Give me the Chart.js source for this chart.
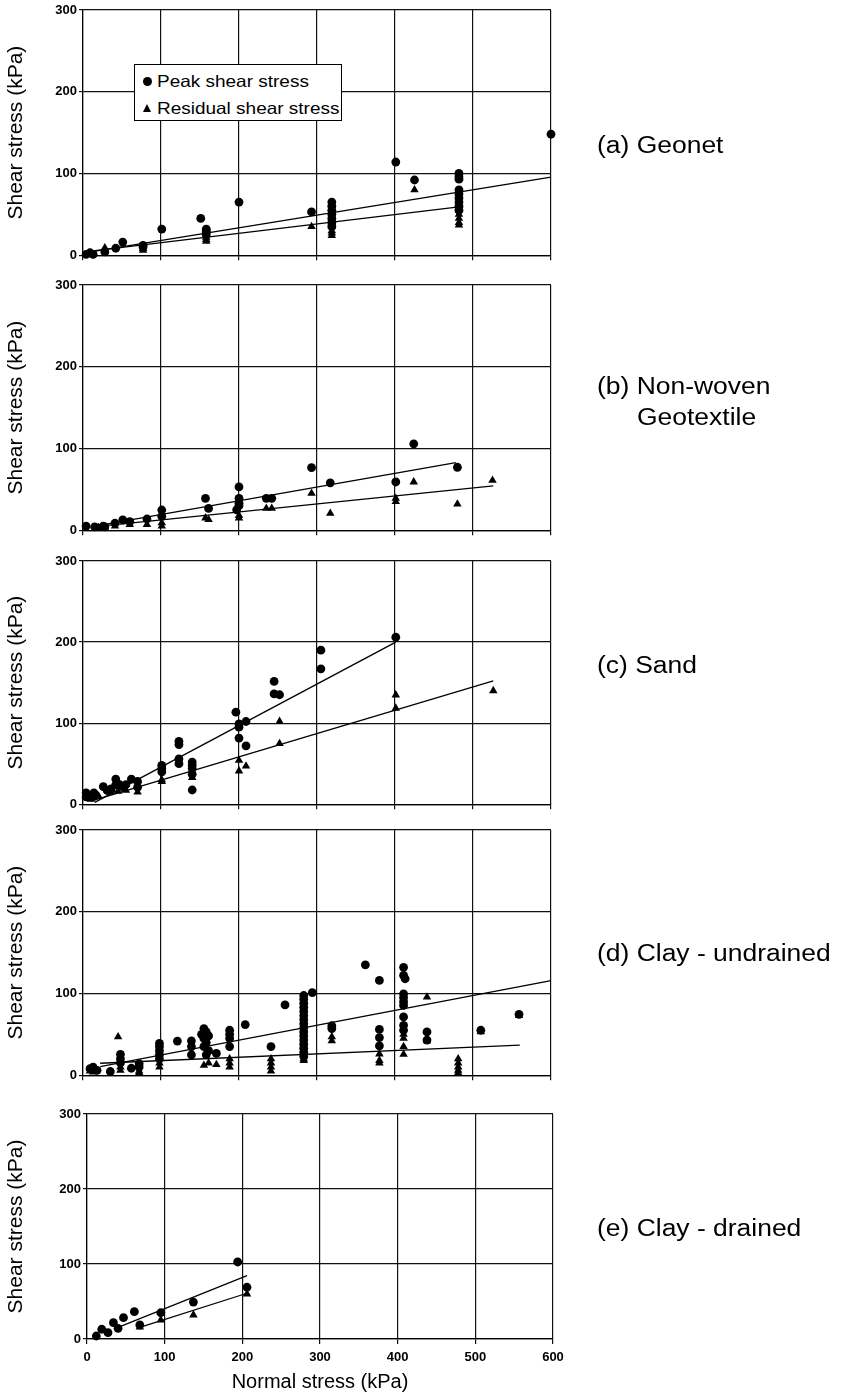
<!DOCTYPE html>
<html>
<head>
<meta charset="utf-8">
<script src="https://cdn.jsdelivr.net/npm/chart.js@4.4.1/dist/chart.umd.min.js"></script>
<style>
html,body{margin:0;padding:0;background:#fff;width:842px;height:1393px;overflow:hidden;position:relative;}
canvas{position:absolute;left:0;}
.lbl{position:absolute;font-family:'Liberation Sans',Arial,Helvetica,sans-serif;font-size:23px;line-height:23px;color:#000;white-space:nowrap;transform:scaleX(1.15);transform-origin:0 50%;}
#legend{position:absolute;left:134px;top:64px;width:206px;height:55px;border:1px solid #000;background:#fff;font-family:'Liberation Sans',Arial,Helvetica,sans-serif;font-size:16.5px;color:#000;}
#legend .row{position:absolute;left:0;height:20px;line-height:20px;white-space:nowrap;}
#legend .txt{position:absolute;left:22px;top:0;transform:scaleX(1.15);transform-origin:0 50%;}
#legend .dot{position:absolute;left:8px;top:6px;width:9px;height:9px;border-radius:50%;background:#000;}
#legend .tri{position:absolute;left:8px;top:6px;width:0;height:0;border-left:4.5px solid transparent;border-right:4.5px solid transparent;border-bottom:8px solid #000;}
</style>
</head>
<body>
<script>
// ---------- tick labels / categories ----------
const xTickValues = [0, 100, 200, 300, 400, 500, 600];
const yTickValues = [0, 100, 200, 300];
const panelNames = ['(a) Geonet', '(b) Non-woven', '(c) Sand', '(d) Clay - undrained', '(e) Clay - drained'];
const seriesNames = ['Peak shear stress', 'Residual shear stress'];

// ---------- (a) Geonet ----------
const geonetPeakX = [4, 9, 13, 28, 42, 51, 77, 77, 101, 151, 158, 158, 158, 158, 200, 293, 319, 319, 319, 319, 319, 319, 319, 401, 425, 482, 482, 482, 482, 482, 482, 482, 482, 482, 600];
const geonetPeakY = [1, 3, 1, 4, 8.5, 16, 12, 10, 32, 45, 32, 30, 28, 25, 65, 53, 65, 60, 55, 50, 45, 40, 35, 114, 92, 100, 96, 93, 80, 75, 70, 65, 60, 55, 148];
const geonetResX = [28, 77, 77, 158, 158, 158, 293, 319, 319, 319, 319, 319, 319, 425, 482, 482, 482, 482, 482, 482];
const geonetResY = [9, 8, 6, 22, 19, 17, 35, 45, 40, 35, 30, 27, 24, 80, 60, 55, 50, 45, 40, 37];
const geonetPeakFitX = [4, 600];
const geonetPeakFitY = [3.2, 95.4];
const geonetResFitX = [10, 482];
const geonetResFitY = [5.1, 59];

// ---------- (b) Non-woven geotextile ----------
const nonwovenPeakX = [4, 15, 26, 28, 41, 51, 60, 82, 101, 101, 157, 161, 200, 200, 200, 197, 200, 235, 242, 293, 317, 401, 424, 480];
const nonwovenPeakY = [5, 4, 5, 4, 8.5, 12.5, 10.5, 13.7, 24.7, 17, 39, 26.7, 53, 39, 33, 25, 30, 39, 39, 76.5, 58, 59, 105.7, 77];
const nonwovenResX = [20, 28, 41, 60, 82, 101, 101, 157, 161, 200, 200, 235, 242, 293, 317, 401, 401, 424, 480, 525];
const nonwovenResY = [3, 4, 5, 7, 7, 9, 5, 15, 13, 18, 15, 26.7, 26.7, 45, 20.6, 39, 35, 59, 32, 61];
const nonwovenPeakFitX = [10, 478];
const nonwovenPeakFitY = [4, 82.6];
const nonwovenResFitX = [10, 526];
const nonwovenResFitY = [3.8, 54.3];

// ---------- (c) Sand ----------
const sandPeakX = [4, 4, 14, 14, 26, 31, 36, 42, 42, 47, 52, 55, 62, 70, 70, 101, 101, 101, 123, 123, 123, 123, 140, 140, 140, 140, 140, 196, 200, 200, 200, 209, 209, 245, 245, 252, 305, 305, 401];
const sandPeakY = [9, 14, 14, 10, 21.6, 17, 19, 31, 24, 24, 21, 24, 31, 28, 21, 48, 44, 40, 77.5, 73.5, 56, 50, 52, 48, 44, 37, 17.5, 113.5, 99, 95, 81.6, 102, 72, 151.5, 136, 135, 190, 167, 206];
const sandResX = [10, 20, 35, 45, 55, 70, 101, 101, 140, 200, 200, 209, 252, 252, 401, 401, 526];
const sandResY = [6, 10, 15, 16, 17, 15, 30, 28, 33, 54, 41, 47, 102, 74.7, 134.7, 118.4, 140];
const sandPeakFitX = [15, 401];
const sandPeakFitY = [2.3, 200];
const sandResFitX = [10, 526];
const sandResFitY = [3.9, 152];

// ---------- (d) Clay - undrained ----------
const clayUPeakX = [9, 13, 18, 35, 48, 48, 48, 62, 72, 72, 98, 98, 98, 98, 98, 121, 139, 139, 139, 152, 155, 158, 161, 155, 158, 155, 161, 158, 171, 188, 188, 188, 188, 208, 241, 259, 283, 283, 283, 283, 283, 283, 283, 283, 283, 283, 283, 283, 283, 283, 283, 283, 294, 319, 319, 362, 380, 380, 380, 380, 411, 411, 413, 411, 411, 411, 411, 411, 411, 411, 441, 441, 510, 559];
const clayUPeakY = [8, 10, 6, 4.5, 25.5, 20, 15, 8.5, 14, 10, 39, 35, 30, 25, 20, 41.7, 42, 35, 25, 50, 57, 53, 48, 45, 40, 35, 30, 25, 26.7, 55, 50, 45, 35, 62, 35, 86, 97.5, 93, 88, 83, 78, 73, 68, 63, 58, 53, 48, 43, 38, 33, 28, 23, 101, 60.5, 57, 135, 116, 56, 46, 36, 132, 122, 118, 99.6, 95, 90, 85.4, 71.3, 61, 55, 53, 43, 55, 74.5];
const clayUResX = [9, 13, 45, 48, 48, 72, 72, 98, 98, 155, 161, 171, 188, 188, 188, 241, 241, 241, 241, 283, 283, 319, 319, 380, 380, 380, 411, 411, 411, 411, 441, 441, 481, 481, 481, 481, 481, 510, 559];
const clayUResY = [5, 4, 47, 10, 6, 5, 3, 15, 10, 12, 15, 13, 20, 15, 10, 20, 15, 10, 5, 20, 18, 47, 42, 26, 18, 15, 50, 45, 35, 25.5, 95.6, 42, 20, 15, 10, 6, 3, 53, 73];
const clayUPeakFitX = [22, 600];
const clayUPeakFitY = [10.4, 115.8];
const clayUResFitX = [22, 560];
const clayUResFitY = [14.6, 36.8];

// ---------- (e) Clay - drained ----------
const clayDPeakX = [12, 19, 27, 34, 40, 47, 61, 68, 95, 137, 194, 206];
const clayDPeakY = [4, 13, 8.4, 21.8, 14.2, 28.4, 36.4, 18.7, 35, 49.3, 102.7, 69];
const clayDResX = [68, 95, 137, 206];
const clayDResY = [16, 25.3, 32, 60];
const clayDPeakFitX = [40, 206];
const clayDPeakFitY = [15.6, 84.4];
const clayDResFitX = [68, 206];
const clayDResFitY = [15.6, 61];

// ---------- build ----------
const FONT = "'Liberation Sans', Arial, Helvetica, sans-serif";
function pts(xs, ys) { return xs.map((x, i) => ({ x: x, y: ys[i] })); }

const panels = [
  { name: panelNames[0], px: geonetPeakX, py: geonetPeakY, rx: geonetResX, ry: geonetResY, pfx: geonetPeakFitX, pfy: geonetPeakFitY, rfx: geonetResFitX, rfy: geonetResFitY,
    top: 0, h: 265, padTop: 10, left: 83, right: 551, xH: 8, showX: false },
  { name: panelNames[1], px: nonwovenPeakX, py: nonwovenPeakY, rx: nonwovenResX, ry: nonwovenResY, pfx: nonwovenPeakFitX, pfy: nonwovenPeakFitY, rfx: nonwovenResFitX, rfy: nonwovenResFitY,
    top: 270, h: 270, padTop: 15, left: 83, right: 551, xH: 8, showX: false },
  { name: panelNames[2], px: sandPeakX, py: sandPeakY, rx: sandResX, ry: sandResY, pfx: sandPeakFitX, pfy: sandPeakFitY, rfx: sandResFitX, rfy: sandResFitY,
    top: 545, h: 269, padTop: 16, left: 83, right: 551, xH: 8, showX: false },
  { name: panelNames[3], px: clayUPeakX, py: clayUPeakY, rx: clayUResX, ry: clayUResY, pfx: clayUPeakFitX, pfy: clayUPeakFitY, rfx: clayUResFitX, rfy: clayUResFitY,
    top: 815, h: 270, padTop: 15, left: 83, right: 551, xH: 8, showX: false },
  { name: panelNames[4], px: clayDPeakX, py: clayDPeakY, rx: clayDResX, ry: clayDResY, pfx: clayDPeakFitX, pfy: clayDPeakFitY, rfx: clayDResFitX, rfy: clayDResFitY,
    top: 1090, h: 304, padTop: 24, left: 87, right: 553, xH: 55, showX: true }
];

function makeChart(p) {
  const c = document.createElement('canvas');
  c.width = 842; c.height = p.h;
  c.style.top = p.top + 'px';
  c.style.width = '842px'; c.style.height = p.h + 'px';
  document.body.appendChild(c);
  return new Chart(c, {
    type: 'scatter',
    data: {
      datasets: [
        { label: seriesNames[0], data: pts(p.px, p.py), pointStyle: 'circle', pointRadius: 4.4, backgroundColor: '#000', borderColor: '#000', borderWidth: 0, clip: false, order: 2 },
        { label: seriesNames[1], data: pts(p.rx, p.ry), pointStyle: 'triangle', pointRadius: 4.9, backgroundColor: '#000', borderColor: '#000', borderWidth: 0, clip: false, order: 2 },
        { label: seriesNames[0] + ' fit', data: pts(p.pfx, p.pfy), showLine: true, pointRadius: 0, borderColor: '#000', borderWidth: 1.3, fill: false, clip: false, order: 1 },
        { label: seriesNames[1] + ' fit', data: pts(p.rfx, p.rfy), showLine: true, pointRadius: 0, borderColor: '#000', borderWidth: 1.3, fill: false, clip: false, order: 1 }
      ]
    },
    options: {
      responsive: false, animation: false, devicePixelRatio: 1,
      layout: { padding: { top: p.padTop, left: 0, right: 842 - p.right, bottom: 0 } },
      plugins: { legend: { display: false }, tooltip: { enabled: false } },
      scales: {
        x: {
          type: 'linear', min: 0, max: 600,
          afterBuildTicks: s => { s.ticks = xTickValues.map(v => ({ value: v })); },
          ticks: { display: p.showX, color: '#000', padding: 6, maxRotation: 0, font: { family: FONT, size: 13, weight: 'bold' } },
          grid: { color: '#111', lineWidth: 1.2, drawTicks: true, tickLength: 5 },
          border: { color: '#000', width: 1.2 },
          title: { display: p.showX, text: 'Normal stress (kPa)', color: '#000', font: { family: FONT, size: 20 }, padding: { top: 0, bottom: 0 } },
          afterFit: s => { s.height = p.xH; }
        },
        y: {
          type: 'linear', min: 0, max: 300,
          afterBuildTicks: s => { s.ticks = yTickValues.map(v => ({ value: v })); },
          ticks: { color: '#000', padding: 2, font: { family: FONT, size: 13, weight: 'bold' } },
          grid: { color: '#111', lineWidth: 1.2, drawTicks: true, tickLength: 4 },
          border: { color: '#000', width: 1.2 },
          title: { display: true, text: 'Shear stress (kPa)', color: '#000', font: { family: FONT, size: 21 }, padding: { top: 4, bottom: 0 } },
          afterFit: s => { s.width = p.left; }
        }
      }
    }
  });
}
panels.forEach(makeChart);

// ---------- panel captions ----------
const captionPos = [[597, 145], [597, 386], [597, 665], [597, 953], [597, 1228]];
panels.forEach((p, i) => {
  const d = document.createElement('div');
  d.className = 'lbl';
  d.textContent = p.name;
  d.style.left = captionPos[i][0] + 'px';
  d.style.top = (captionPos[i][1] - 11.5) + 'px';
  document.body.appendChild(d);
});
const sub = document.createElement('div');
sub.className = 'lbl';
sub.textContent = 'Geotextile';
sub.style.left = '637px';
sub.style.top = (417 - 11.5) + 'px';
document.body.appendChild(sub);

// ---------- legend (panel a) ----------
const lg = document.createElement('div');
lg.id = 'legend';
lg.innerHTML = '<div class="row" style="top:6px;width:100%"><span class="dot"></span><span class="txt"></span></div>' +
               '<div class="row" style="top:33px;width:100%"><span class="tri"></span><span class="txt"></span></div>';
const txts = lg.querySelectorAll('.txt');
txts[0].textContent = seriesNames[0];
txts[1].textContent = seriesNames[1];
document.body.appendChild(lg);
</script>
</body>
</html>
